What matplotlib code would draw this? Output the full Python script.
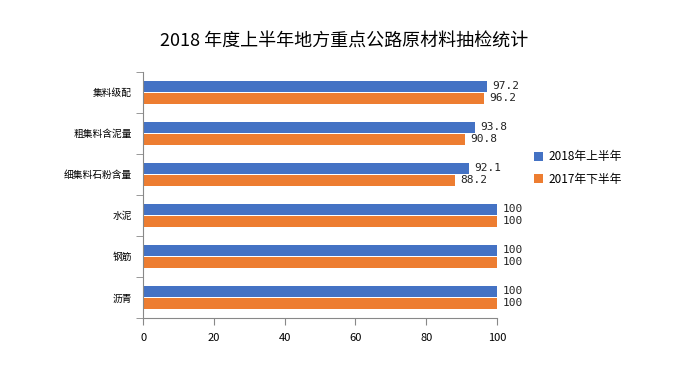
import matplotlib
matplotlib.use("Agg")
import matplotlib.pyplot as plt
import numpy as np

plt.rcParams['font.family'] = ['Noto Sans CJK SC', 'DejaVu Sans']

categories = ["集料级配", "粗集料含泥量", "细集料石粉含量", "水泥", "钢筋", "沥青"]
series_names = ["2018年上半年", "2017年下半年"]
values_2018h1 = [97.2, 93.8, 92.1, 100, 100, 100]
values_2017h2 = [96.2, 90.8, 88.2, 100, 100, 100]
labels_2018h1 = ["97.2", "93.8", "92.1", "100", "100", "100"]
labels_2017h2 = ["96.2", "90.8", "88.2", "100", "100", "100"]
x_ticks = [0, 20, 40, 60, 80, 100]

blue = "#4472C4"
orange = "#ED7D31"

fig = plt.figure(figsize=(6.88, 3.65), dpi=100)
ax = fig.add_axes([0.208, 0.129, 0.5145, 0.674])

n = len(categories)
y = np.arange(n)
h = 0.27
gap = 0.02
b1 = ax.barh(y - (h + gap) / 2, values_2018h1, height=h, color=blue, label=series_names[0])
b2 = ax.barh(y + (h + gap) / 2, values_2017h2, height=h, color=orange, label=series_names[1])

for rect, lab in zip(b1, labels_2018h1):
    ax.text(rect.get_width() + 1.5, rect.get_y() + rect.get_height() / 2, lab,
            va='center', ha='left', fontsize=8, family='DejaVu Sans Mono', color='#222222')
for rect, lab in zip(b2, labels_2017h2):
    ax.text(rect.get_width() + 1.5, rect.get_y() + rect.get_height() / 2, lab,
            va='center', ha='left', fontsize=8, family='DejaVu Sans Mono', color='#222222')

ax.set_ylim(n - 0.5, -0.5)
ax.set_xlim(0, 100)
ax.set_xticks(x_ticks)
ax.set_xticklabels([str(t) for t in x_ticks], fontsize=8)

ax.set_yticks(y)
ax.set_yticklabels(categories, fontsize=7)
ax.set_yticks(np.arange(n + 1) - 0.5, minor=True)
ax.tick_params(axis='y', which='major', length=0, pad=8)
ax.tick_params(axis='y', which='minor', length=5, color='#888888', direction='out')
ax.tick_params(axis='x', length=5, color='#888888', direction='out', pad=6)

for s in ['top', 'right']:
    ax.spines[s].set_visible(False)
for s in ['left', 'bottom']:
    ax.spines[s].set_color('#888888')

fig.suptitle("2018 年度上半年地方重点公路原材料抽检统计", y=0.91, fontsize=13)

ax.legend(loc='center left', bbox_to_anchor=(0.76, 0.54), bbox_transform=fig.transFigure,
          frameon=False, fontsize=8.5, handlelength=0.8, handleheight=0.8, handletextpad=0.5,
          labelspacing=0.8)

fig.savefig("out.png", dpi=100)
